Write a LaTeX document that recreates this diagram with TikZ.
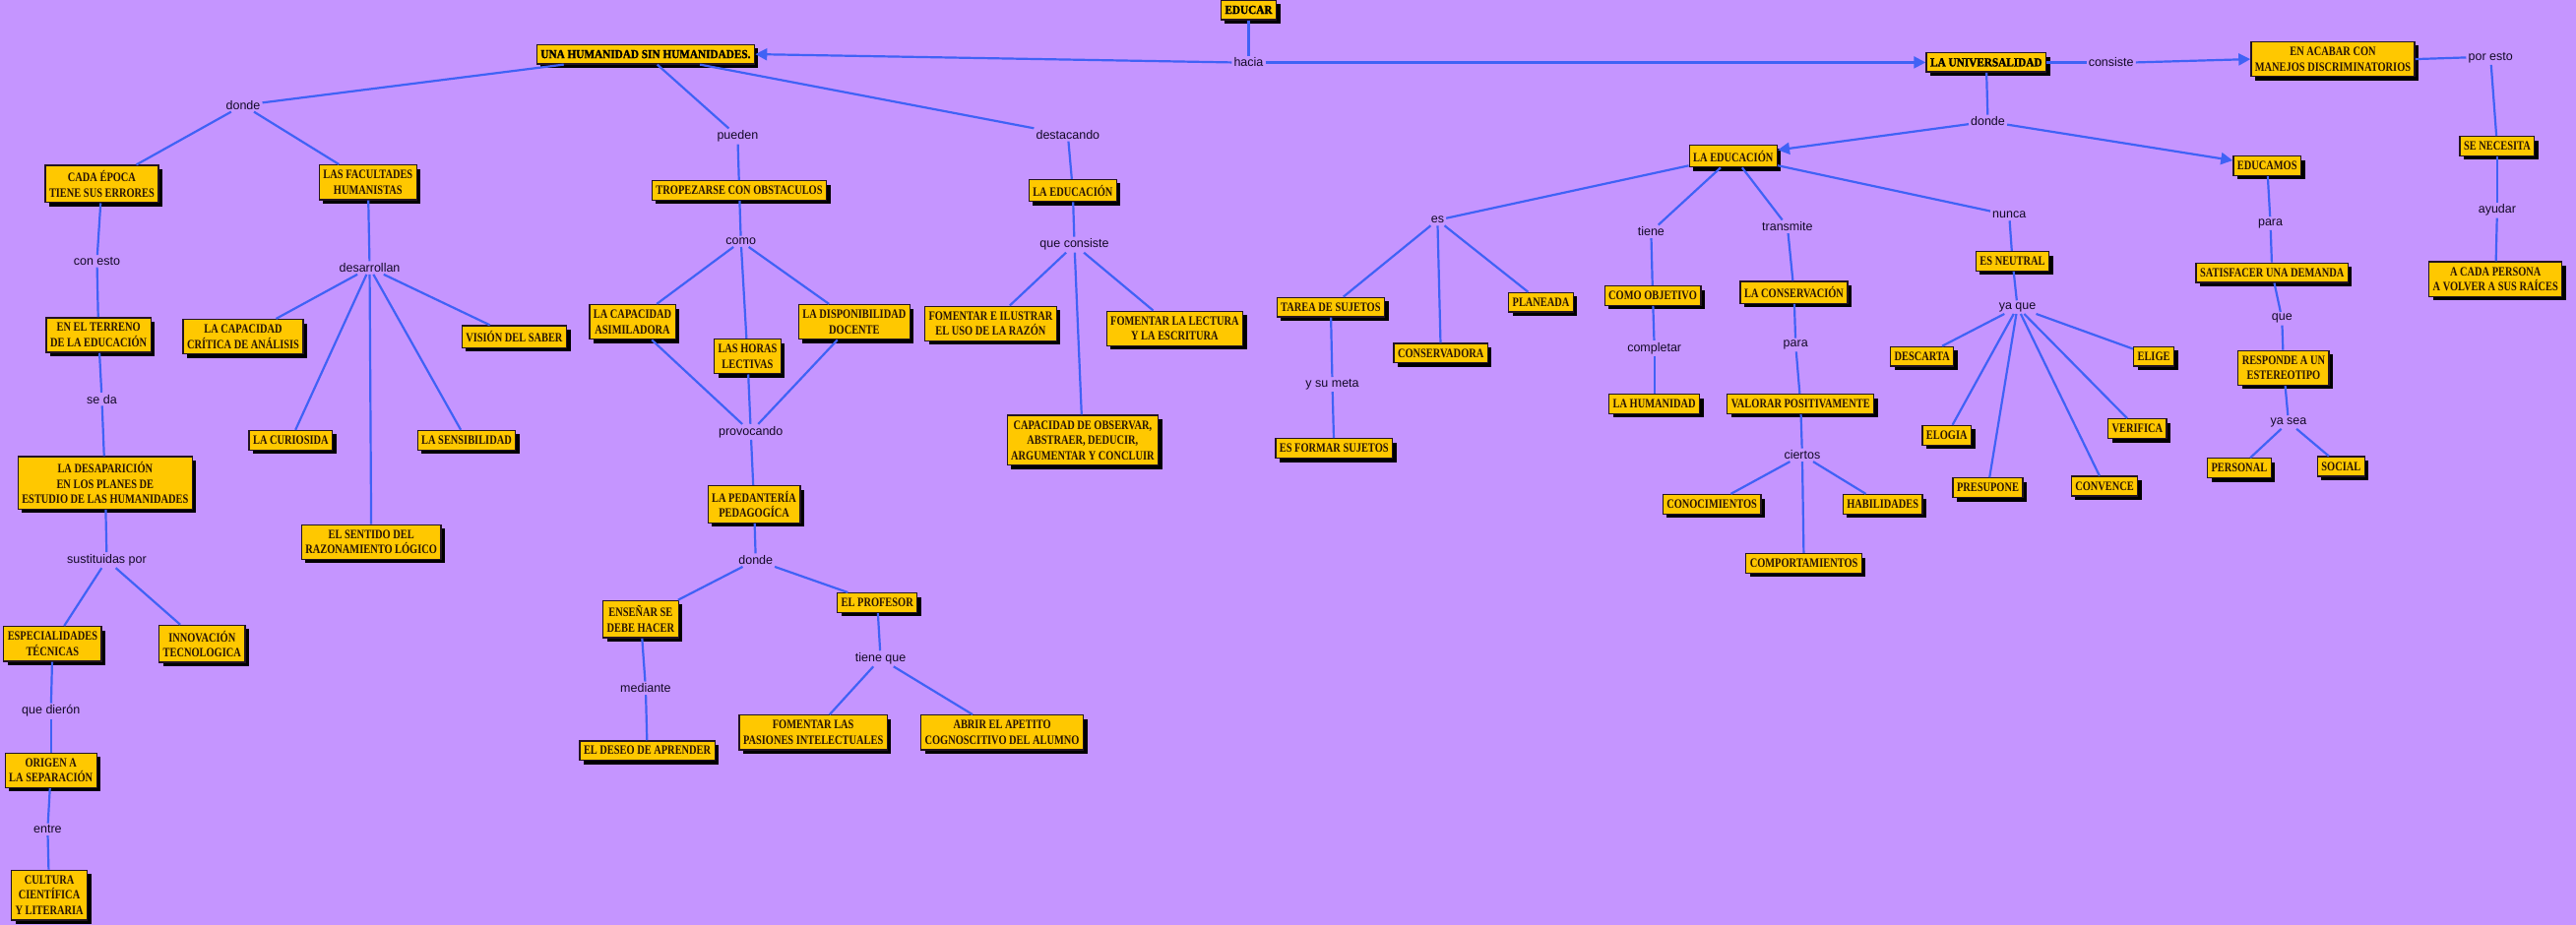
\documentclass[tikz,border=0pt]{standalone}
\usepackage{fontspec}
\newfontfamily\boxfont[FakeStretch=0.8]{Liberation Serif Bold}
\newfontfamily\topfont[FakeStretch=0.9,FakeBold=1.5]{Liberation Serif Bold}
\newfontfamily\linkfont{Liberation Sans}
\usetikzlibrary{arrows.meta,shadows}
\definecolor{bgPurple}{RGB}{197,149,255}
\definecolor{boxGold}{RGB}{255,200,0}
\definecolor{boxEdge}{RGB}{35,20,35}
\definecolor{boxInk}{RGB}{40,20,5}
\definecolor{linkBlue}{RGB}{64,98,245}
\definecolor{linkInk}{RGB}{20,10,40}
\begin{document}
\begin{tikzpicture}[
    x=1.669pt, y=-1.669pt,
    conceptBox/.style={rectangle,draw=boxEdge,line width=1.3pt,fill=boxGold,text=boxInk,align=center,
        font=\boxfont\fontsize{13}{15.5}\selectfont,inner xsep=4pt,inner ysep=5.5pt,
        general shadow={fill=black,shadow xshift=4pt,shadow yshift=-4pt}},
    topBox/.style={conceptBox,text=black,line width=1.6pt,font=\topfont\fontsize{12.5}{15}\selectfont},
    linkLbl/.style={font=\linkfont\fontsize{12.5}{14}\selectfont,text=linkInk,inner sep=2pt},
    linkLine/.style={draw=linkBlue,line width=2.2pt},
    linkArrow/.style={linkLine,-{Triangle[length=12pt,width=12pt]}},
]
\fill[bgPurple] (0,0) rectangle (1568,563);
\useasboundingbox (0,0) rectangle (1568,563);

% top concepts
\node[topBox] (cEducar) at (760,6) {EDUCAR};
\node[linkLbl] (lnkHacia) at (760,38) {hacia};
\node[topBox] (cHumanidad) at (393,33) {UNA HUMANIDAD SIN HUMANIDADES.};
\node[topBox] (cUniversal) at (1209,38) {LA UNIVERSALIDAD};

% left branch
\node[linkLbl] (lnkDondeA) at (148,64) {donde};
\node[linkLbl] (lnkPueden) at (449,83) {pueden};
\node[linkLbl] (lnkDestacando) at (650,82) {destacando};
\node[conceptBox] (cEpoca) at (62,112) {CADA ÉPOCA\\TIENE SUS ERRORES};
\node[conceptBox] (cFacultades) at (224,111) {LAS FACULTADES\\HUMANISTAS};
\node[linkLbl] (lnkConEsto) at (59,159) {con esto};
\node[conceptBox] (cTerreno) at (60,204) {EN EL TERRENO\\DE LA EDUCACIÓN};
\node[linkLbl] (lnkSeDa) at (62,243) {se da};
\node[conceptBox] (cDesaparicion) at (64,294) {LA DESAPARICIÓN\\EN LOS PLANES DE\\ESTUDIO DE LAS HUMANIDADES};
\node[linkLbl] (lnkSustituidas) at (65,341) {sustituidas por};
\node[conceptBox] (cEspecial) at (32,392) {ESPECIALIDADES\\TÉCNICAS};
\node[conceptBox] (cInnovacion) at (123,392) {INNOVACIÓN\\TECNOLOGICA};
\node[linkLbl] (lnkQueDieron) at (31,433) {que dierón};
\node[conceptBox] (cOrigen) at (31,469) {ORIGEN A\\LA SEPARACIÓN};
\node[linkLbl] (lnkEntre) at (29,505) {entre};
\node[conceptBox] (cCultura) at (30,545) {CULTURA\\CIENTÍFICA\\Y LITERARIA};
\node[linkLbl] (lnkDesarrollan) at (225,163) {desarrollan};
\node[conceptBox] (cCritica) at (148,205) {LA CAPACIDAD\\CRÍTICA DE ANÁLISIS};
\node[conceptBox] (cVision) at (313,205) {VISIÓN DEL SABER};
\node[conceptBox] (cCuriosidad) at (177,268) {LA CURIOSIDA};
\node[conceptBox] (cSensibilidad) at (284,268) {LA SENSIBILIDAD};
\node[conceptBox] (cSentido) at (226,330) {EL SENTIDO DEL\\RAZONAMIENTO LÓGICO};

% pueden
\node[conceptBox] (cTropezar) at (450,116) {TROPEZARSE CON OBSTACULOS};
\node[linkLbl] (lnkComo) at (451,147) {como};
\node[conceptBox] (cAsimiladora) at (385,196) {LA CAPACIDAD\\ASIMILADORA};
\node[conceptBox] (cHoras) at (455,217) {LAS HORAS\\LECTIVAS};
\node[conceptBox] (cDisponible) at (520,196) {LA DISPONIBILIDAD\\DOCENTE};
\node[linkLbl] (lnkProvocando) at (457,263) {provocando};
\node[conceptBox] (cPedanteria) at (459,307) {LA PEDANTERÍA\\PEDAGOGÍCA};
\node[linkLbl] (lnkDondeB) at (460,341) {donde};
\node[conceptBox] (cEnsenar) at (390,377) {ENSEÑAR SE\\DEBE HACER};
\node[conceptBox] (cProfesor) at (534,367) {EL PROFESOR};
\node[linkLbl] (lnkMediante) at (393,419) {mediante};
\node[conceptBox] (cDeseo) at (394,457) {EL DESEO DE APRENDER};
\node[linkLbl] (lnkTieneQue) at (536,401) {tiene que};
\node[conceptBox] (cPasiones) at (495,446) {FOMENTAR LAS\\PASIONES INTELECTUALES};
\node[conceptBox] (cApetito) at (610,446) {ABRIR EL APETITO\\COGNOSCITIVO DEL ALUMNO};

% destacando
\node[conceptBox] (cEduL) at (653,116) {LA EDUCACIÓN};
\node[linkLbl] (lnkQueConsiste) at (654,149) {que consiste};
\node[conceptBox] (cRazon) at (603,197) {FOMENTAR E ILUSTRAR\\EL USO DE LA RAZÓN};
\node[conceptBox] (cLectura) at (715,200) {FOMENTAR LA LECTURA\\Y LA ESCRITURA};
\node[conceptBox] (cObservar) at (659,268) {CAPACIDAD DE OBSERVAR,\\ABSTRAER, DEDUCIR,\\ARGUMENTAR Y CONCLUIR};

% right branch
\node[linkLbl] (lnkConsiste) at (1285,38) {consiste};
\node[conceptBox] (cAcabar) at (1420,36) {EN ACABAR CON\\MANEJOS DISCRIMINATORIOS};
\node[linkLbl] (lnkPorEsto) at (1516,35) {por esto};
\node[conceptBox] (cNecesita) at (1520,89) {SE NECESITA};
\node[linkLbl] (lnkAyudar) at (1520,128) {ayudar};
\node[conceptBox] (cPersona) at (1519,170) {A CADA PERSONA\\A VOLVER A SUS RAÍCES};
\node[linkLbl] (lnkDondeC) at (1210,74) {donde};
\node[conceptBox] (cEduR) at (1055,95) {LA EDUCACIÓN};
\node[conceptBox] (cEducamos) at (1380,101) {EDUCAMOS};
\node[linkLbl] (lnkParaA) at (1382,136) {para};
\node[conceptBox] (cDemanda) at (1383,166) {SATISFACER UNA DEMANDA};
\node[linkLbl] (lnkQue) at (1389,194) {que};
\node[conceptBox] (cEstereotipo) at (1390,224) {RESPONDE A UN\\ESTEREOTIPO};
\node[linkLbl] (lnkYaSea) at (1393,257) {ya sea};
\node[conceptBox] (cPersonal) at (1363,285) {PERSONAL};
\node[conceptBox] (cSocial) at (1425,284) {SOCIAL};

% la educacion (right)
\node[linkLbl] (lnkEs) at (875,134) {es};
\node[linkLbl] (lnkTiene) at (1005,141) {tiene};
\node[linkLbl] (lnkTransmite) at (1088,138) {transmite};
\node[linkLbl] (lnkNunca) at (1223,131) {nunca};
\node[conceptBox] (cTarea) at (810,187) {TAREA DE SUJETOS};
\node[conceptBox] (cConservadora) at (877,215) {CONSERVADORA};
\node[conceptBox] (cPlaneada) at (938,184) {PLANEADA};
\node[linkLbl] (lnkYSuMeta) at (811,234) {y su meta};
\node[conceptBox] (cFormar) at (812,273) {ES FORMAR SUJETOS};
\node[conceptBox] (cObjetivo) at (1006,180) {COMO OBJETIVO};
\node[linkLbl] (lnkCompletar) at (1007,212) {completar};
\node[conceptBox] (cLaHumanidad) at (1007,246) {LA HUMANIDAD};
\node[conceptBox] (cConservacion) at (1092,178) {LA CONSERVACIÓN};
\node[linkLbl] (lnkParaB) at (1093,210) {para};
\node[conceptBox] (cValorar) at (1096,246) {VALORAR POSITIVAMENTE};
\node[linkLbl] (lnkCiertos) at (1097,277) {ciertos};
\node[conceptBox] (cConocim) at (1042,307) {CONOCIMIENTOS};
\node[conceptBox] (cHabilid) at (1146,307) {HABILIDADES};
\node[conceptBox] (cComport) at (1098,343) {COMPORTAMIENTOS};
\node[conceptBox] (cNeutral) at (1225,159) {ES NEUTRAL};
\node[linkLbl] (lnkYaQue) at (1228,187) {ya que};
\node[conceptBox] (cDescarta) at (1170,217) {DESCARTA};
\node[conceptBox] (cElige) at (1311,217) {ELIGE};
\node[conceptBox] (cElogia) at (1185,265) {ELOGIA};
\node[conceptBox] (cVerifica) at (1301,261) {VERIFICA};
\node[conceptBox] (cPresupone) at (1210,297) {PRESUPONE};
\node[conceptBox] (cConvence) at (1281,296) {CONVENCE};

% connectors
\draw[linkLine] (cEducar) -- (lnkHacia);
\draw[linkArrow] (lnkHacia.west) -- (cHumanidad.east);
\draw[linkArrow] (lnkHacia.east) -- (cUniversal.west);
\draw[linkLine] (cHumanidad) -- (lnkDondeA);
\draw[linkLine] (cHumanidad) -- (lnkPueden);
\draw[linkLine] (cHumanidad) -- (lnkDestacando);
\draw[linkLine] (lnkDondeA) -- (cEpoca);
\draw[linkLine] (lnkDondeA) -- (cFacultades);
\draw[linkLine] (cEpoca) -- (lnkConEsto);
\draw[linkLine] (lnkConEsto) -- (cTerreno);
\draw[linkLine] (cTerreno) -- (lnkSeDa);
\draw[linkLine] (lnkSeDa) -- (cDesaparicion);
\draw[linkLine] (cDesaparicion) -- (lnkSustituidas);
\draw[linkLine] (lnkSustituidas) -- (cEspecial);
\draw[linkLine] (lnkSustituidas) -- (cInnovacion);
\draw[linkLine] (cEspecial) -- (lnkQueDieron);
\draw[linkLine] (lnkQueDieron) -- (cOrigen);
\draw[linkLine] (cOrigen) -- (lnkEntre);
\draw[linkLine] (lnkEntre) -- (cCultura);
\draw[linkLine] (cFacultades) -- (lnkDesarrollan);
\draw[linkLine] (lnkDesarrollan) -- (cCritica);
\draw[linkLine] (lnkDesarrollan) -- (cCuriosidad);
\draw[linkLine] (lnkDesarrollan) -- (cSentido);
\draw[linkLine] (lnkDesarrollan) -- (cSensibilidad);
\draw[linkLine] (lnkDesarrollan) -- (cVision);
\draw[linkLine] (lnkPueden) -- (cTropezar);
\draw[linkLine] (cTropezar) -- (lnkComo);
\draw[linkLine] (lnkComo) -- (cAsimiladora);
\draw[linkLine] (lnkComo) -- (cHoras);
\draw[linkLine] (lnkComo) -- (cDisponible);
\draw[linkLine] (cAsimiladora) -- (lnkProvocando);
\draw[linkLine] (cHoras) -- (lnkProvocando);
\draw[linkLine] (cDisponible) -- (lnkProvocando);
\draw[linkLine] (lnkProvocando) -- (cPedanteria);
\draw[linkLine] (cPedanteria) -- (lnkDondeB);
\draw[linkLine] (lnkDondeB) -- (cEnsenar);
\draw[linkLine] (lnkDondeB) -- (cProfesor);
\draw[linkLine] (cEnsenar) -- (lnkMediante);
\draw[linkLine] (lnkMediante) -- (cDeseo);
\draw[linkLine] (cProfesor) -- (lnkTieneQue);
\draw[linkLine] (lnkTieneQue) -- (cPasiones);
\draw[linkLine] (lnkTieneQue) -- (cApetito);
\draw[linkLine] (lnkDestacando) -- (cEduL);
\draw[linkLine] (cEduL) -- (lnkQueConsiste);
\draw[linkLine] (lnkQueConsiste) -- (cRazon);
\draw[linkLine] (lnkQueConsiste) -- (cObservar);
\draw[linkLine] (lnkQueConsiste) -- (cLectura);
\draw[linkLine] (cUniversal.east) -- (lnkConsiste.west);
\draw[linkArrow] (lnkConsiste.east) -- (cAcabar.west);
\draw[linkLine] (cAcabar.east) -- (lnkPorEsto.west);
\draw[linkLine] (lnkPorEsto) -- (cNecesita);
\draw[linkLine] (cNecesita) -- (lnkAyudar);
\draw[linkLine] (lnkAyudar) -- (cPersona);
\draw[linkLine] (cUniversal) -- (lnkDondeC);
\draw[linkArrow] (lnkDondeC) -- (cEduR);
\draw[linkArrow] (lnkDondeC) -- (cEducamos);
\draw[linkLine] (cEducamos) -- (lnkParaA);
\draw[linkLine] (lnkParaA) -- (cDemanda);
\draw[linkLine] (cDemanda) -- (lnkQue);
\draw[linkLine] (lnkQue) -- (cEstereotipo);
\draw[linkLine] (cEstereotipo) -- (lnkYaSea);
\draw[linkLine] (lnkYaSea) -- (cPersonal);
\draw[linkLine] (lnkYaSea) -- (cSocial);
\draw[linkLine] (cEduR) -- (lnkEs);
\draw[linkLine] (cEduR) -- (lnkTiene);
\draw[linkLine] (cEduR) -- (lnkTransmite);
\draw[linkLine] (cEduR) -- (lnkNunca);
\draw[linkLine] (lnkEs) -- (cTarea);
\draw[linkLine] (lnkEs) -- (cConservadora);
\draw[linkLine] (lnkEs) -- (cPlaneada);
\draw[linkLine] (cTarea) -- (lnkYSuMeta);
\draw[linkLine] (lnkYSuMeta) -- (cFormar);
\draw[linkLine] (lnkTiene) -- (cObjetivo);
\draw[linkLine] (cObjetivo) -- (lnkCompletar);
\draw[linkLine] (lnkCompletar) -- (cLaHumanidad);
\draw[linkLine] (lnkTransmite) -- (cConservacion);
\draw[linkLine] (cConservacion) -- (lnkParaB);
\draw[linkLine] (lnkParaB) -- (cValorar);
\draw[linkLine] (cValorar) -- (lnkCiertos);
\draw[linkLine] (lnkCiertos) -- (cConocim);
\draw[linkLine] (lnkCiertos) -- (cComport);
\draw[linkLine] (lnkCiertos) -- (cHabilid);
\draw[linkLine] (lnkNunca) -- (cNeutral);
\draw[linkLine] (cNeutral) -- (lnkYaQue);
\draw[linkLine] (lnkYaQue) -- (cDescarta);
\draw[linkLine] (lnkYaQue) -- (cElogia);
\draw[linkLine] (lnkYaQue) -- (cPresupone);
\draw[linkLine] (lnkYaQue) -- (cConvence);
\draw[linkLine] (lnkYaQue) -- (cVerifica);
\draw[linkLine] (lnkYaQue) -- (cElige);
\end{tikzpicture}
\end{document}
